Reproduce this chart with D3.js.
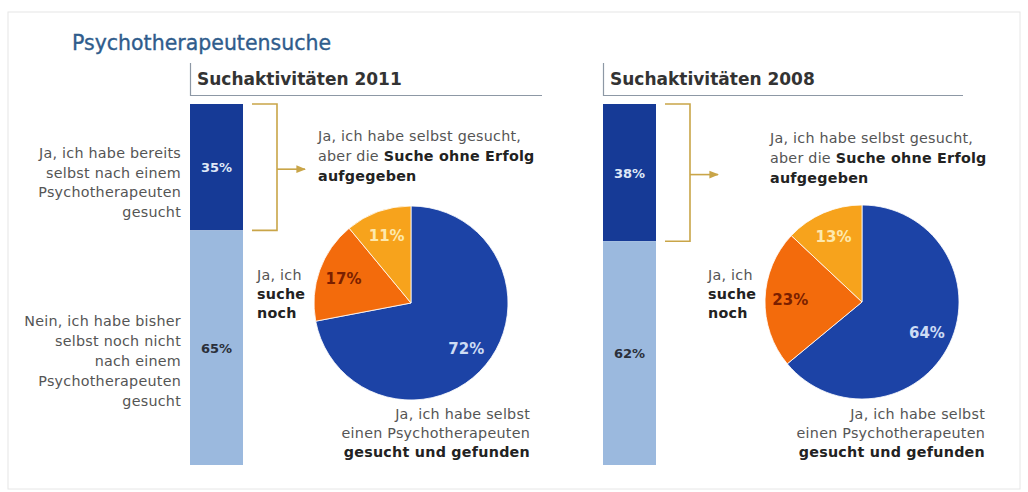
<!DOCTYPE html>
<html><head><meta charset="utf-8">
<script src="https://cdn.jsdelivr.net/npm/d3@7"></script>
<style>
html,body{margin:0;padding:0;background:#fff;}
text{font-family:"DejaVu Sans",Verdana,sans-serif;}
</style></head>
<body><svg id="c" width="1028" height="492"></svg>
<script>
// ---- data ----
const years = ["2011", "2008"];
const searchedYes = [35, 38];      // Ja, bereits gesucht
const searchedNo = [65, 62];       // Nein, noch nicht gesucht
const pieFound = [72, 64];         // gesucht und gefunden
const pieStill = [17, 23];         // suche noch
const pieGaveUp = [11, 13];        // Suche ohne Erfolg aufgegeben

const C = {
  barDark: "#163a96", barLight: "#9bb9de",
  pieBlue: "#1c43a6", pieOrange: "#f36b0c", pieYellow: "#f7a31c",
  bracket: "#c9a548", title: "#2f5c8c", text: "#555", dark: "#222"
};

const svg = d3.select("#c");
svg.append("rect").attr("x", 8).attr("y", 12).attr("width", 1012).attr("height", 477)
  .attr("fill", "#fff").attr("stroke", "#e6e6e6");

svg.append("text").attr("x", 72).attr("y", 50).attr("font-size", 20.5).attr("fill", C.title)
  .attr("stroke", C.title).attr("stroke-width", 0.35)
  .text("Psychotherapeutensuche");

svg.append("defs").append("marker").attr("id", "ah").attr("viewBox", "0 0 10 10")
  .attr("refX", 9).attr("refY", 5).attr("markerWidth", 6).attr("markerHeight", 6).attr("orient", "auto")
  .append("path").attr("d", "M0,1 L10,5 L0,9 Z").attr("fill", C.bracket);

const panels = [
  {x0: 190, pieCx: 411, pieCy: 303, topTxtX: 318, topBase: [141, 161, 181], rightX: 530, jaX: 257, leftLabels: true},
  {x0: 603, pieCx: 862, pieCy: 302, topTxtX: 770, topBase: [143, 163, 183], rightX: 985, jaX: 708, leftLabels: false}
];

const y = d3.scaleLinear().domain([0, 100]).range([104, 465]);
const barW = 53, R = 97;
const FS = 14.3, LS = 0.25;

function lines(g, x, bases, arr, anchor) {
  arr.forEach((ln, i) => {
    const t = g.append("text").attr("x", x).attr("y", bases[i]).attr("font-size", FS)
      .attr("letter-spacing", LS)
      .attr("text-anchor", anchor || "start").attr("fill", C.text);
    ln.forEach(part => {
      t.append("tspan").text(part[0]).attr("font-weight", part[1] ? "bold" : "normal")
        .attr("fill", part[1] ? C.dark : C.text);
    });
  });
}

years.forEach((yr, i) => {
  const p = panels[i];
  const g = svg.append("g");
  // header
  g.append("path").attr("d", `M${p.x0 + 0.5},63 V95.5 H${p.x0 + (i === 0 ? 352 : 360)}`)
    .attr("fill", "none").attr("stroke", "#8d98a5").attr("stroke-width", 1.2);
  g.append("text").attr("x", p.x0 + 7).attr("y", 85).attr("font-size", 17).attr("font-weight", "bold")
    .attr("fill", "#333").text("Suchaktivitäten " + yr);

  // stacked bar
  const segs = [
    {v0: 0, v1: searchedYes[i], fill: C.barDark, col: "#dfe8f7", lab: searchedYes[i] + "%"},
    {v0: searchedYes[i], v1: searchedYes[i] + searchedNo[i], fill: C.barLight, col: "#2a2f3a", lab: searchedNo[i] + "%"}
  ];
  segs.forEach(s => {
    g.append("rect").attr("x", p.x0).attr("y", y(s.v0)).attr("width", barW)
      .attr("height", y(s.v1) - y(s.v0)).attr("fill", s.fill);
    g.append("text").attr("x", p.x0 + barW / 2).attr("y", (y(s.v0) + y(s.v1)) / 2 + 5)
      .attr("text-anchor", "middle").attr("font-size", 13).attr("font-weight", "bold")
      .attr("fill", s.col).text(s.lab);
  });

  // bracket + arrow
  const bx0 = p.x0 + barW + 9, bx1 = p.x0 + barW + 34;
  const by0 = y(0), by1 = y(searchedYes[i]);
  g.append("path").attr("d", `M${bx0},${by0} H${bx1} V${by1} H${bx0}`)
    .attr("fill", "none").attr("stroke", C.bracket).attr("stroke-width", 1.6);
  g.append("line").attr("x1", bx1).attr("x2", bx1 + 28).attr("y1", (by0 + by1) / 2 + 2).attr("y2", (by0 + by1) / 2 + 2)
    .attr("stroke", C.bracket).attr("stroke-width", 1.6).attr("marker-end", "url(#ah)");

  // left labels (2011 only)
  if (p.leftLabels) {
    lines(g, 181, [158, 177.5, 197, 216.5],
      [[["Ja, ich habe bereits"]], [["selbst nach einem"]], [["Psychotherapeuten"]], [["gesucht"]]], "end");
    lines(g, 181, [326, 346, 366, 386, 406],
      [[["Nein, ich habe bisher"]], [["selbst noch nicht"]], [["nach einem"]], [["Psychotherapeuten"]], [["gesucht"]]], "end");
  }

  // pie
  const vals = [
    {v: pieFound[i], fill: C.pieBlue, col: "#cddcf4"},
    {v: pieStill[i], fill: C.pieOrange, col: "#7a1f00"},
    {v: pieGaveUp[i], fill: C.pieYellow, col: "#fde9ad"}
  ];
  const arcs = d3.pie().sort(null).value(d => d.v)(vals);
  const arc = d3.arc().innerRadius(0).outerRadius(R);
  const lab = d3.arc().innerRadius(R * 0.74).outerRadius(R * 0.74);
  const pg = g.append("g").attr("transform", `translate(${p.pieCx},${p.pieCy})`);
  pg.selectAll("path").data(arcs).join("path").attr("d", arc)
    .attr("fill", d => d.data.fill).attr("stroke", "#fff").attr("stroke-width", 0.8);
  pg.selectAll("text").data(arcs).join("text")
    .attr("transform", d => `translate(${lab.centroid(d)})`).attr("dy", "0.36em")
    .attr("text-anchor", "middle").attr("font-size", 15).attr("font-weight", "bold")
    .attr("fill", d => d.data.col).text(d => d.data.v + "%");

  // pie annotations
  lines(g, p.topTxtX, p.topBase,
    [[["Ja, ich habe selbst gesucht,"]], [["aber die "], ["Suche ohne Erfolg", true]], [["aufgegeben", true]]]);
  lines(g, p.jaX, [280, 299, 318], [[["Ja, ich"]], [["suche", true]], [["noch", true]]]);
  lines(g, p.rightX, [419, 438, 457],
    [[["Ja, ich habe selbst"]], [["einen Psychotherapeuten"]], [["gesucht und gefunden", true]]], "end");
});
</script></body></html>
